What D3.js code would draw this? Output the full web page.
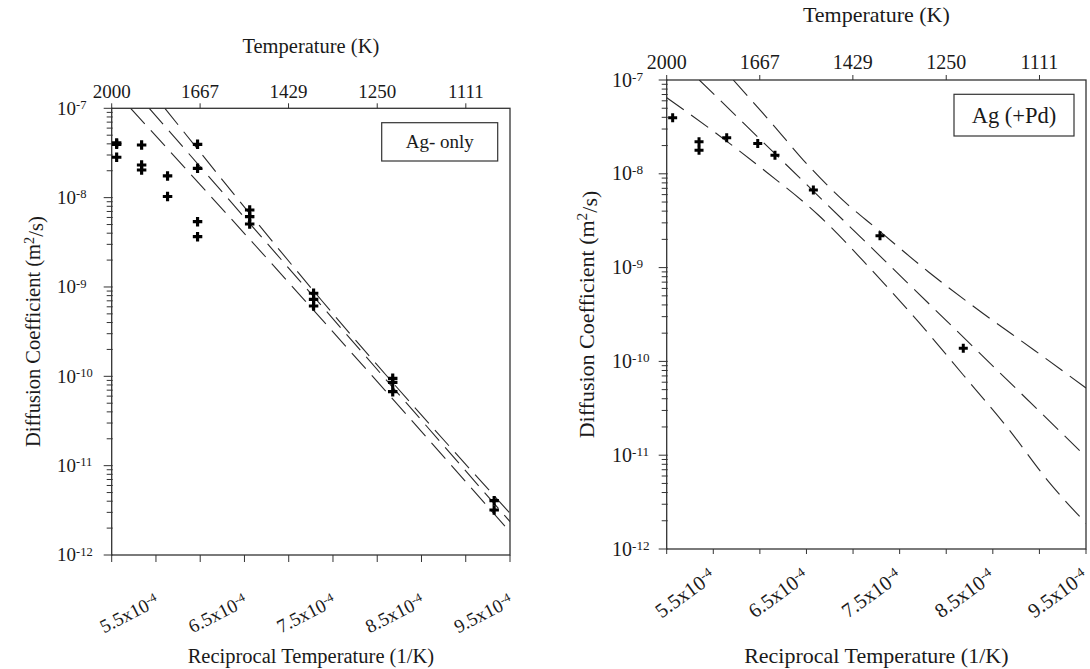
<!DOCTYPE html>
<html><head><meta charset="utf-8">
<script src="https://cdn.jsdelivr.net/npm/d3@7"></script>
<style>body{margin:0;background:#fff}svg{display:block}text{font-family:"Liberation Serif","Times New Roman",serif;fill:#1a1a1a}</style>
</head><body><svg id="c" width="1090" height="669"></svg>
<script>
// ---- data ----
const recipDomain = [5.0e-4, 9.5e-4];
const recipTicks = [5.5e-4, 6.5e-4, 7.5e-4, 8.5e-4, 9.5e-4];
const recipTickLabels = ["5.5x10", "6.5x10", "7.5x10", "8.5x10", "9.5x10"];
const recipMinorTicks = [5.0e-4, 6.0e-4, 7.0e-4, 8.0e-4, 9.0e-4];
const tempTicks = [2000, 1667, 1429, 1250, 1111];
const dDomain = [1e-12, 1e-7];
const decadeExps = [-7, -8, -9, -10, -11, -12];

// Ag-only panel
const agOnlyInvT = [5.056e-4, 5.056e-4, 5.056e-4, 5.338e-4, 5.338e-4, 5.338e-4, 5.631e-4, 5.631e-4,
  5.970e-4, 5.970e-4, 5.970e-4, 5.970e-4, 6.559e-4, 6.559e-4, 6.559e-4, 7.281e-4, 7.281e-4, 7.281e-4,
  8.175e-4, 8.175e-4, 8.175e-4, 9.321e-4, 9.321e-4];
const agOnlyD = [4.1e-8, 3.95e-8, 2.83e-8, 3.88e-8, 2.32e-8, 2.04e-8, 1.75e-8, 1.03e-8,
  3.95e-8, 2.13e-8, 5.38e-9, 3.66e-9, 7.28e-9, 6.12e-9, 5.07e-9, 8.5e-10, 7.28e-10, 6.12e-10,
  9.5e-11, 8.57e-11, 6.73e-11, 4.06e-12, 3.19e-12];
const agOnlyLowerInvT = [5.214e-4, 7.18e-4, 9.5e-4];
const agOnlyLowerD = [1e-7, 7.1e-10, 1.81e-12];
const agOnlyFitInvT = [5.424e-4, 9.5e-4];
const agOnlyFitD = [1e-7, 2.36e-12];
const agOnlyUpperInvT = [5.601e-4, 7.37e-4, 9.5e-4];
const agOnlyUpperD = [1e-7, 7.1e-10, 2.93e-12];

// Ag (+Pd) panel
const agPdInvT = [5.064e-4, 5.347e-4, 5.347e-4, 5.644e-4, 5.977e-4, 6.162e-4, 6.574e-4, 7.289e-4, 8.183e-4];
const agPdD = [3.96e-8, 2.2e-8, 1.78e-8, 2.43e-8, 2.11e-8, 1.58e-8, 6.71e-9, 2.19e-9, 1.38e-10];
const agPdUpperInvT = [5.715e-4, 6.144e-4, 6.466e-4, 6.949e-4, 7.235e-4, 7.807e-4, 8.370e-4, 8.953e-4, 9.5e-4];
const agPdUpperLog = [-7.0, -7.48, -7.853, -8.333, -8.57, -9.044, -9.47, -9.886, -10.284];
const agPdFitInvT = [5.35e-4, 9.5e-4];
const agPdFitLog = [-7.0, -11.016];
const agPdLowerInvT = [5.0e-4, 5.483e-4, 6.066e-4, 6.627e-4, 7.182e-4, 7.700e-4, 8.183e-4, 8.649e-4, 9.114e-4, 9.5e-4];
const agPdLowerLog = [-7.189, -7.533, -7.978, -8.439, -9.007, -9.577, -10.145, -10.696, -11.3, -11.726];

// ---- drawing ----
const svg = d3.select("#c");

function supText(sel, base, sup, supSize) {
  sel.append("tspan").text(base);
  sel.append("tspan").attr("dy", "-0.45em").attr("font-size", supSize).text(sup);
}

function panel(cfg) {
  const g = svg.append("g");
  const x = d3.scaleLinear().domain(recipDomain).range([cfg.x0, cfg.x1]);
  const y = d3.scaleLog().domain(dDomain).range([cfg.y1, cfg.y0]);
  const clipId = "clip" + cfg.id;
  svg.append("clipPath").attr("id", clipId).append("rect")
    .attr("x", cfg.x0).attr("y", cfg.y0).attr("width", cfg.x1 - cfg.x0).attr("height", cfg.y1 - cfg.y0);

  // minor y ticks
  const minor = [];
  for (let e = -12; e < -7; e++) for (let m = 2; m <= 9; m++) minor.push(m * Math.pow(10, e));
  g.selectAll(".ym").data(minor).join("line")
    .attr("x1", cfg.x0 - 5).attr("x2", cfg.x0 + 1).attr("y1", d => y(d)).attr("y2", d => y(d))
    .attr("stroke", "#333").attr("stroke-width", 1);
  g.selectAll(".yM").data(decadeExps).join("line")
    .attr("x1", cfg.x0 - 8).attr("x2", cfg.x0 + 1).attr("y1", d => y(Math.pow(10, d))).attr("y2", d => y(Math.pow(10, d)))
    .attr("stroke", "#333").attr("stroke-width", 1);
  g.selectAll(".yl").data(decadeExps).join("text")
    .attr("x", cfg.ylabX).attr("y", d => y(Math.pow(10, d)) + cfg.yfs * 0.33)
    .attr("text-anchor", "start").attr("font-size", cfg.yfs)
    .each(function (d) { supText(d3.select(this), "10", String(d), cfg.yfs * 0.66); });

  // bottom ticks
  g.selectAll(".xt").data(recipTicks.concat(recipMinorTicks)).join("line")
    .attr("x1", d => x(d)).attr("x2", d => x(d)).attr("y1", cfg.y1).attr("y2", cfg.y1 + cfg.xtick)
    .attr("stroke", "#333").attr("stroke-width", 1);
  g.selectAll(".xl").data(recipTicks).join("text")
    .attr("text-anchor", "end").attr("font-size", cfg.xfs)
    .attr("transform", d => `translate(${x(d) + cfg.xlabDx},${cfg.y1 + cfg.xlabDy}) rotate(${cfg.rot})`)
    .each(function (d, i) { supText(d3.select(this), recipTickLabels[i], "-4", cfg.xfs * 0.66); });

  // top ticks (temperature)
  g.selectAll(".tt").data(tempTicks).join("line")
    .attr("x1", d => x(1 / d)).attr("x2", d => x(1 / d)).attr("y1", cfg.y0).attr("y2", cfg.y0 - 5)
    .attr("stroke", "#333").attr("stroke-width", 1);
  g.selectAll(".tl").data(tempTicks).join("text")
    .attr("x", d => x(1 / d)).attr("y", cfg.y0 - cfg.tlabOff)
    .attr("text-anchor", "middle").attr("font-size", cfg.tfs).text(d => d);

  // frame
  g.append("rect").attr("x", cfg.x0).attr("y", cfg.y0).attr("width", cfg.x1 - cfg.x0).attr("height", cfg.y1 - cfg.y0)
    .attr("fill", "none").attr("stroke", "#333").attr("stroke-width", 1.3);

  // titles
  const cx = (cfg.x0 + cfg.x1) / 2;
  g.append("text").attr("x", cx).attr("y", cfg.topTitleY).attr("text-anchor", "middle")
    .attr("font-size", cfg.titleFs).text("Temperature (K)");
  g.append("text").attr("x", cx).attr("y", cfg.botTitleY).attr("text-anchor", "middle")
    .attr("font-size", cfg.titleFs).text("Reciprocal Temperature (1/K)");
  const yt = g.append("text").attr("text-anchor", "middle").attr("font-size", cfg.titleFs)
    .attr("transform", `translate(${cfg.yTitleX},${(cfg.y0 + cfg.y1) / 2}) rotate(-90)`);
  yt.append("tspan").text("Diffusion Coefficient (m");
  yt.append("tspan").attr("dy", "-0.45em").attr("font-size", cfg.titleFs * 0.7).text("2");
  yt.append("tspan").attr("dy", "0.45em").text("/s)");

  // lines
  const lg = g.append("g").attr("clip-path", `url(#${clipId})`);
  cfg.lines.forEach(pts => {
    lg.append("path").datum(pts)
      .attr("d", d3.line().x(p => x(p[0])).y(p => y(p[1])).curve(d3.curveMonotoneX))
      .attr("fill", "none").attr("stroke", "#2a2a2a").attr("stroke-width", 1.1)
      .attr("stroke-dasharray", "21,9");
  });

  // points
  g.selectAll(".pt").data(cfg.invT.map((v, i) => [v, cfg.D[i]])).join("path")
    .attr("d", d3.symbol(d3.symbolCross, cfg.msize))
    .attr("transform", d => `translate(${x(d[0])},${y(d[1])})`)
    .attr("fill", "#000");

  // legend
  const L = cfg.legend;
  g.append("rect").attr("x", L.x).attr("y", L.y).attr("width", L.w).attr("height", L.h)
    .attr("fill", "#fff").attr("stroke", "#333").attr("stroke-width", 1.2);
  g.append("text").attr("x", L.x + L.w / 2).attr("y", L.y + L.h / 2 + L.fs * 0.33)
    .attr("text-anchor", "middle").attr("font-size", L.fs).text(L.text);
}

const zip = (a, b) => a.map((v, i) => [v, b[i]]);
const fromLog = arr => arr.map(v => Math.pow(10, v));

panel({
  id: "L", x0: 111.7, x1: 510, y0: 108.3, y1: 555,
  yfs: 19, ylabX: 57, xfs: 19, xtick: 7, xlabDx: 4, xlabDy: 50, rot: -27,
  tfs: 19, tlabOff: 10, titleFs: 20.5, topTitleY: 53, botTitleY: 663, yTitleX: 40,
  invT: agOnlyInvT, D: agOnlyD, msize: 50,
  lines: [zip(agOnlyLowerInvT, agOnlyLowerD), zip(agOnlyFitInvT, agOnlyFitD), zip(agOnlyUpperInvT, agOnlyUpperD)],
  legend: { x: 381.7, y: 122.7, w: 116, h: 38.3, fs: 19, text: "Ag- only" }
});

panel({
  id: "R", x0: 666.7, x1: 1086, y0: 80, y1: 549,
  yfs: 20, ylabX: 612, xfs: 20.5, xtick: 5, xlabDx: 3, xlabDy: 30, rot: -36,
  tfs: 20, tlabOff: 11, titleFs: 22, topTitleY: 22, botTitleY: 663, yTitleX: 594,
  invT: agPdInvT, D: agPdD, msize: 45,
  lines: [zip(agPdUpperInvT, fromLog(agPdUpperLog)), zip(agPdFitInvT, fromLog(agPdFitLog)), zip(agPdLowerInvT, fromLog(agPdLowerLog))],
  legend: { x: 954, y: 94.3, w: 120, h: 41.7, fs: 22.5, text: "Ag (+Pd)" }
});
</script></body></html>
